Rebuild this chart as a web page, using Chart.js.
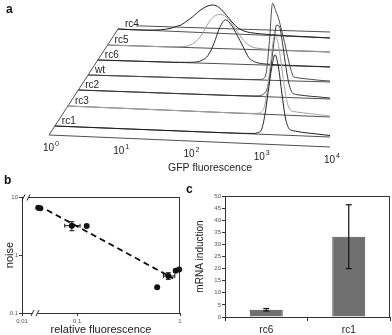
<!DOCTYPE html>
<html>
<head>
<meta charset="utf-8">
<script src="https://cdn.jsdelivr.net/npm/chart.js@4.4.1/dist/chart.umd.min.js"></script>
<style>
  html, body { margin: 0; padding: 0; background: #fff; }
  #fig { position: relative; width: 392px; height: 335px; font-family: "Liberation Sans", Arial, sans-serif; }
  #fig canvas { position: absolute; }
  .tag { position: absolute; font-weight: bold; font-size: 12px; color: #111; line-height: 14px; }
</style>
</head>
<body>
<div id="fig">
  <canvas id="histChart" width="392" height="176" style="left:0;top:0"></canvas>
  <canvas id="noiseChart" width="192" height="159" style="left:0;top:176px"></canvas>
  <canvas id="mrnaChart" width="207" height="159" style="left:185px;top:176px"></canvas>
  <div class="tag" style="left:6px;top:2px">a</div>
  <div class="tag" style="left:4px;top:173px">b</div>
  <div class="tag" style="left:186px;top:182px">c</div>
</div>
<script>
// ---- panel a: GFP histograms (log10 fluorescence bins, relative counts)
const LOG_BINS = [0, 0.5, 0.8, 1.0, 1.1, 1.2, 1.3, 1.4, 1.5, 1.6, 1.7, 1.8, 1.9, 2.0, 2.1, 2.2, 2.3, 2.4, 2.5, 2.6, 2.7,
  2.8, 2.85, 2.9, 2.95, 3.0, 3.05, 3.1, 3.15, 3.2, 3.25, 3.3, 3.35, 3.4, 3.45, 3.5, 3.6, 3.7, 3.8, 3.9, 4.0];

const COUNTS_RC4 = [0, 0, 1, 3, 5, 7, 11, 15, 20, 24, 27, 28, 26, 21, 15, 9, 5, 3, 2, 1.5, 1.2,
  1, 1, 0.8, 0.8, 0.7, 0.6, 0.6, 0.5, 0.5, 0.5, 0.4, 0.4, 0.4, 0.3, 0.3, 0.3, 0.2, 0.2, 0.1, 0];
const COUNTS_RC5 = [0, 0, 0, 0, 0, 0.3, 0.6, 1, 3, 7, 14, 24, 31, 34, 33, 28, 20, 12, 6, 2.5, 1.5,
  1, 0.8, 0.8, 0.7, 0.6, 0.6, 0.5, 0.5, 0.5, 0.4, 0.4, 0.4, 0.3, 0.3, 0.3, 0.2, 0.2, 0.2, 0.1, 0];
const COUNTS_RC6 = [0, 0, 0, 0, 0, 0, 0, 0.2, 0.3, 0.5, 1, 3, 8, 20, 36, 44, 39, 29, 18, 7, 3,
  1.5, 1.2, 1, 0.9, 0.8, 0.7, 0.6, 0.6, 0.5, 0.5, 0.4, 0.4, 0.4, 0.3, 0.3, 0.3, 0.2, 0.2, 0.1, 0];
const COUNTS_WT = [0, 0, 0, 0, 0, 0, 0, 0, 0, 0, 0, 0, 0, 0, 0, 0, 0, 0, 0.1, 0.1, 0.2,
  0.4, 0.6, 1.5, 9, 40, 77, 70, 62, 50, 38, 24, 12, 4, 3.5, 3, 2.5, 2, 1.5, 1.2, 1];
const COUNTS_RC2 = [0, 0, 0, 0, 0, 0, 0, 0, 0, 0, 0, 0, 0, 0, 0, 0, 0, 0, 0.1, 0.1, 0.2,
  0.3, 0.5, 1, 3, 8, 25, 50, 72, 70, 52, 30, 13, 5, 3.5, 3, 2.5, 2, 1.8, 1.3, 1];
const COUNTS_RC3 = [0, 0, 0, 0, 0, 0, 0, 0, 0, 0, 0, 0, 0, 0, 0, 0, 0, 0, 0.1, 0.1, 0.2,
  0.3, 0.5, 0.8, 2, 8, 28, 55, 78, 74, 54, 30, 12, 5, 4, 3.5, 3, 2.5, 2, 1.5, 1];
const COUNTS_RC1 = [0, 0, 0, 0, 0, 0, 0, 0, 0, 0, 0, 0, 0, 0, 0, 0, 0, 0, 0.1, 0.1, 0.2,
  0.3, 0.4, 0.5, 1.5, 4, 18, 42, 66, 80, 68, 42, 18, 7, 5, 4.5, 3.5, 3, 2.5, 2, 1.5];

// back to front
const TRACE_NAMES = ["rc4", "rc5", "rc6", "wt", "rc2", "rc3", "rc1"];
const TRACE_COUNTS = [COUNTS_RC4, COUNTS_RC5, COUNTS_RC6, COUNTS_WT, COUNTS_RC2, COUNTS_RC3, COUNTS_RC1];
const TRACE_COLORS = ["#1c1c1c", "#9b9b9b", "#262626", "#4a4a4a", "#333333", "#a3a3a3", "#1e1e1e"];
const HIST_TICKS = [0, 1, 2, 3, 4];

// ---- panel b: noise vs relative fluorescence
const NOISE_X = [0.042, 0.044, 0.089, 0.124, 0.60, 0.77, 0.908, 0.98];
const NOISE_Y = [6.5, 6.4, 3.2, 3.15, 0.277, 0.435, 0.537, 0.565];
const NOISE_X_LO = [null, null, 0.076, null, null, 0.69, null, null];
const NOISE_X_HI = [null, null, 0.107, null, null, 0.89, null, null];
const NOISE_Y_LO = [null, null, 2.62, null, null, 0.381, null, null];
const NOISE_Y_HI = [null, null, 3.75, null, null, 0.495, null, null];
const FIT_X = [0.051, 0.86];
const FIT_Y = [5.97, 0.396];
const NOISE_X_TICKS = [0.0292, 0.1, 1];
const NOISE_X_LABELS = ["0.01", "0.1", "1"];
const NOISE_Y_TICKS = [0.1, 1, 10];
const NOISE_Y_LABELS = ["0.1", "1", "10"];

// ---- panel c: mRNA induction
const MRNA_LABELS = ["rc6", "rc1"];
const MRNA_VALUES = [3.0, 33.2];
const MRNA_ERR = [0.5, 13.2];

Chart.defaults.font.family = '"Liberation Sans", Arial, sans-serif';

// oblique projection of the histogram stack (plane 0 = front axis, 7 = back)
const PLANE_LEFT_Y = [135, 126, 106, 90, 75, 60, 45, 29];
const PLANE_RIGHT_Y = [147, 137, 117, 99, 82, 67, 52, 38];
const DIAG_BOTTOM = { x: 49, y: 135 };
const DIAG_TOP = { x: 118, y: 29 };
const RIGHT_EDGE_X = 330;

function planeLeftX(p) {
  const y = PLANE_LEFT_Y[p];
  return DIAG_BOTTOM.x + (DIAG_BOTTOM.y - y) * (DIAG_TOP.x - DIAG_BOTTOM.x) / (DIAG_BOTTOM.y - DIAG_TOP.y);
}

function project(logF, count, plane) {
  const u = logF / 4;
  const xl = planeLeftX(plane);
  return {
    x: xl + u * (RIGHT_EDGE_X - xl),
    y: PLANE_LEFT_Y[plane] + u * (PLANE_RIGHT_Y[plane] - PLANE_LEFT_Y[plane]) - count,
  };
}

function toPx(chart, pt) {
  return [chart.scales.x.getPixelForValue(pt.x), chart.scales.y.getPixelForValue(pt.y)];
}

function strokeSeg(ctx, a, b) {
  ctx.beginPath();
  ctx.moveTo(a[0], a[1]);
  ctx.lineTo(b[0], b[1]);
  ctx.stroke();
}

const histFrame = {
  id: "histFrame",
  beforeDatasetsDraw(chart) {
    const { ctx } = chart;
    const top = PLANE_LEFT_Y.length - 1;
    ctx.save();
    ctx.strokeStyle = "#505050";
    ctx.lineWidth = 1;
    for (let p = 0; p <= top; p++) {
      strokeSeg(ctx, toPx(chart, project(0, 0, p)), toPx(chart, project(4, 0, p)));
    }
    strokeSeg(ctx, toPx(chart, project(0, 0, 0)), toPx(chart, project(0, 0, top)));
    // rc4 label leader
    strokeSeg(ctx, toPx(chart, project(0.38, 4, top)), toPx(chart, project(4, 6, top)));
    ctx.restore();
  },
  afterDraw(chart) {
    const { ctx } = chart;
    ctx.save();
    ctx.fillStyle = "#222";
    ctx.textBaseline = "alphabetic";
    ctx.font = '10px "Liberation Sans", Arial, sans-serif';
    TRACE_NAMES.forEach((name, i) => {
      const plane = TRACE_NAMES.length - i;
      const xy = toPx(chart, project(0, 0, plane));
      ctx.textAlign = "left";
      ctx.fillText(name, xy[0] + 7, xy[1] - 2.5);
    });
    HIST_TICKS.forEach((k) => {
      const xy = toPx(chart, project(k, 0, 0));
      ctx.font = '10px "Liberation Sans", Arial, sans-serif';
      ctx.textAlign = "right";
      ctx.fillText("10", xy[0] + 5, xy[1] + 16);
      ctx.font = '7px "Liberation Sans", Arial, sans-serif';
      ctx.textAlign = "left";
      ctx.fillText(String(k), xy[0] + 6, xy[1] + 11);
    });
    ctx.font = '10.5px "Liberation Sans", Arial, sans-serif';
    ctx.textAlign = "center";
    ctx.fillText("GFP fluorescence", 210, 171);
    ctx.restore();
  },
};

new Chart(document.getElementById("histChart"), {
  type: "scatter",
  data: {
    datasets: TRACE_NAMES.map((name, i) => ({
      label: name,
      data: LOG_BINS.map((lf, k) => project(lf, TRACE_COUNTS[i][k], TRACE_NAMES.length - i)),
      showLine: true,
      pointRadius: 0,
      borderColor: TRACE_COLORS[i],
      borderWidth: 1,
      cubicInterpolationMode: "monotone",
      order: TRACE_NAMES.length - i,
      clip: false,
    })),
  },
  options: {
    responsive: false,
    animation: false,
    events: [],
    layout: { padding: 0 },
    plugins: { legend: { display: false }, tooltip: { enabled: false } },
    scales: {
      x: { type: "linear", display: false, min: 0, max: 392 },
      y: { type: "linear", display: false, min: 0, max: 176, reverse: true },
    },
  },
  plugins: [histFrame],
});

// ---- panel b
function drawBreak(ctx, x, y) {
  ctx.save();
  ctx.fillStyle = "#fff";
  ctx.fillRect(x - 3, y - 1.5, 6, 3);
  ctx.strokeStyle = "#222";
  ctx.lineWidth = 1;
  strokeSeg(ctx, [x - 4, y + 3], [x - 1, y - 3]);
  strokeSeg(ctx, [x + 1, y + 3], [x + 4, y - 3]);
  ctx.restore();
}

const noiseExtras = {
  id: "noiseExtras",
  beforeDatasetsDraw(chart) {
    const { ctx, chartArea: a } = chart;
    ctx.save();
    ctx.strokeStyle = "#333";
    ctx.lineWidth = 1;
    strokeSeg(ctx, [a.left, a.top + 0.5], [a.right, a.top + 0.5]);
    strokeSeg(ctx, [a.right - 0.5, a.top], [a.right - 0.5, a.bottom]);
    ctx.restore();
  },
  afterDatasetsDraw(chart) {
    const { ctx, chartArea: a, scales: { x, y } } = chart;
    ctx.save();
    ctx.strokeStyle = "#111";
    ctx.lineWidth = 1;
    NOISE_X.forEach((v, i) => {
      const px = x.getPixelForValue(v);
      const py = y.getPixelForValue(NOISE_Y[i]);
      if (NOISE_X_LO[i] !== null) {
        const l = x.getPixelForValue(NOISE_X_LO[i]);
        const r = x.getPixelForValue(NOISE_X_HI[i]);
        strokeSeg(ctx, [l, py], [r, py]);
        strokeSeg(ctx, [l, py - 2], [l, py + 2]);
        strokeSeg(ctx, [r, py - 2], [r, py + 2]);
      }
      if (NOISE_Y_LO[i] !== null) {
        const b = y.getPixelForValue(NOISE_Y_LO[i]);
        const t = y.getPixelForValue(NOISE_Y_HI[i]);
        strokeSeg(ctx, [px, b], [px, t]);
        strokeSeg(ctx, [px - 2.5, b], [px + 2.5, b]);
        strokeSeg(ctx, [px - 2.5, t], [px + 2.5, t]);
      }
    });
    ctx.restore();
    drawBreak(ctx, a.left + 4, a.top + 0.5);
    drawBreak(ctx, a.left + 13, a.bottom);
  },
};

const smallTicks = { size: 6 };

new Chart(document.getElementById("noiseChart"), {
  type: "scatter",
  data: {
    datasets: [
      {
        data: NOISE_X.map((v, i) => ({ x: v, y: NOISE_Y[i] })),
        pointRadius: 3,
        backgroundColor: "#111",
        borderColor: "#111",
        borderWidth: 0,
        order: 0,
        clip: false,
      },
      {
        data: FIT_X.map((v, i) => ({ x: v, y: FIT_Y[i] })),
        showLine: true,
        pointRadius: 0,
        borderColor: "#111",
        borderWidth: 1.8,
        borderDash: [6, 4],
        order: 1,
      },
    ],
  },
  options: {
    responsive: false,
    animation: false,
    events: [],
    layout: { padding: { top: 21, right: 12, left: 0, bottom: 0 } },
    plugins: { legend: { display: false }, tooltip: { enabled: false } },
    scales: {
      x: {
        type: "logarithmic",
        min: NOISE_X_TICKS[0],
        max: 1,
        afterBuildTicks(scale) {
          scale.ticks = NOISE_X_TICKS.map((v) => ({ value: v }));
        },
        afterFit(scale) {
          scale.height = 22;
        },
        ticks: {
          font: smallTicks,
          color: "#555",
          maxRotation: 0,
          autoSkip: false,
          padding: 2,
          callback: (v, i) => NOISE_X_LABELS[i],
        },
        grid: { drawOnChartArea: false, tickLength: 3, color: "#333" },
        border: { color: "#333" },
        title: {
          display: true,
          text: "relative fluorescence",
          color: "#222",
          font: { size: 11, lineHeight: 0.95 },
          padding: { top: 0, bottom: 0 },
        },
      },
      y: {
        type: "logarithmic",
        min: 0.1,
        max: 10,
        afterBuildTicks(scale) {
          scale.ticks = NOISE_Y_TICKS.map((v) => ({ value: v }));
        },
        afterFit(scale) {
          scale.width = 22;
        },
        ticks: {
          font: smallTicks,
          color: "#555",
          autoSkip: false,
          padding: 1,
          callback: (v, i) => NOISE_Y_LABELS[i],
        },
        grid: { drawOnChartArea: false, tickLength: 3, color: "#333" },
        border: { color: "#333" },
        title: {
          display: true,
          text: "noise",
          color: "#222",
          font: { size: 11 },
          padding: { top: 3, bottom: 0 },
        },
      },
    },
  },
  plugins: [noiseExtras],
});

// ---- panel c
const mrnaExtras = {
  id: "mrnaExtras",
  beforeDatasetsDraw(chart) {
    const { ctx, chartArea: a } = chart;
    ctx.save();
    ctx.strokeStyle = "#333";
    ctx.lineWidth = 1;
    strokeSeg(ctx, [a.left, a.top + 0.5], [a.right, a.top + 0.5]);
    strokeSeg(ctx, [a.right - 0.5, a.top], [a.right - 0.5, a.bottom]);
    ctx.restore();
  },
  afterDatasetsDraw(chart) {
    const { ctx, scales: { x, y } } = chart;
    ctx.save();
    ctx.strokeStyle = "#111";
    ctx.lineWidth = 1.2;
    MRNA_VALUES.forEach((v, i) => {
      const px = x.getPixelForValue(i);
      const t = y.getPixelForValue(v + MRNA_ERR[i]);
      const b = y.getPixelForValue(v - MRNA_ERR[i]);
      strokeSeg(ctx, [px, t], [px, b]);
      strokeSeg(ctx, [px - 3, t], [px + 3, t]);
      strokeSeg(ctx, [px - 3, b], [px + 3, b]);
    });
    ctx.restore();
  },
};

new Chart(document.getElementById("mrnaChart"), {
  type: "bar",
  data: {
    labels: MRNA_LABELS,
    datasets: [
      {
        data: MRNA_VALUES,
        backgroundColor: "#707070",
        borderColor: "#4c4c4c",
        borderWidth: 1,
        categoryPercentage: 1,
        barPercentage: 0.4,
      },
    ],
  },
  options: {
    responsive: false,
    animation: false,
    events: [],
    layout: { padding: { top: 20, right: 2, left: 0, bottom: 0 } },
    plugins: { legend: { display: false }, tooltip: { enabled: false } },
    scales: {
      x: {
        afterFit(scale) {
          scale.height = 18;
        },
        ticks: { font: { size: 10 }, color: "#222", padding: 3 },
        grid: { drawOnChartArea: false, tickLength: 4, color: "#333" },
        border: { color: "#333" },
      },
      y: {
        min: 0,
        max: 50,
        afterFit(scale) {
          scale.width = 40;
        },
        ticks: { stepSize: 5, font: smallTicks, color: "#555", padding: 1 },
        grid: { drawOnChartArea: false, tickLength: 3, color: "#333" },
        border: { color: "#333" },
        title: {
          display: true,
          text: "mRNA induction",
          color: "#222",
          font: { size: 10 },
          padding: { top: 9, bottom: 0 },
        },
      },
    },
  },
  plugins: [mrnaExtras],
});
</script>
</body>
</html>
